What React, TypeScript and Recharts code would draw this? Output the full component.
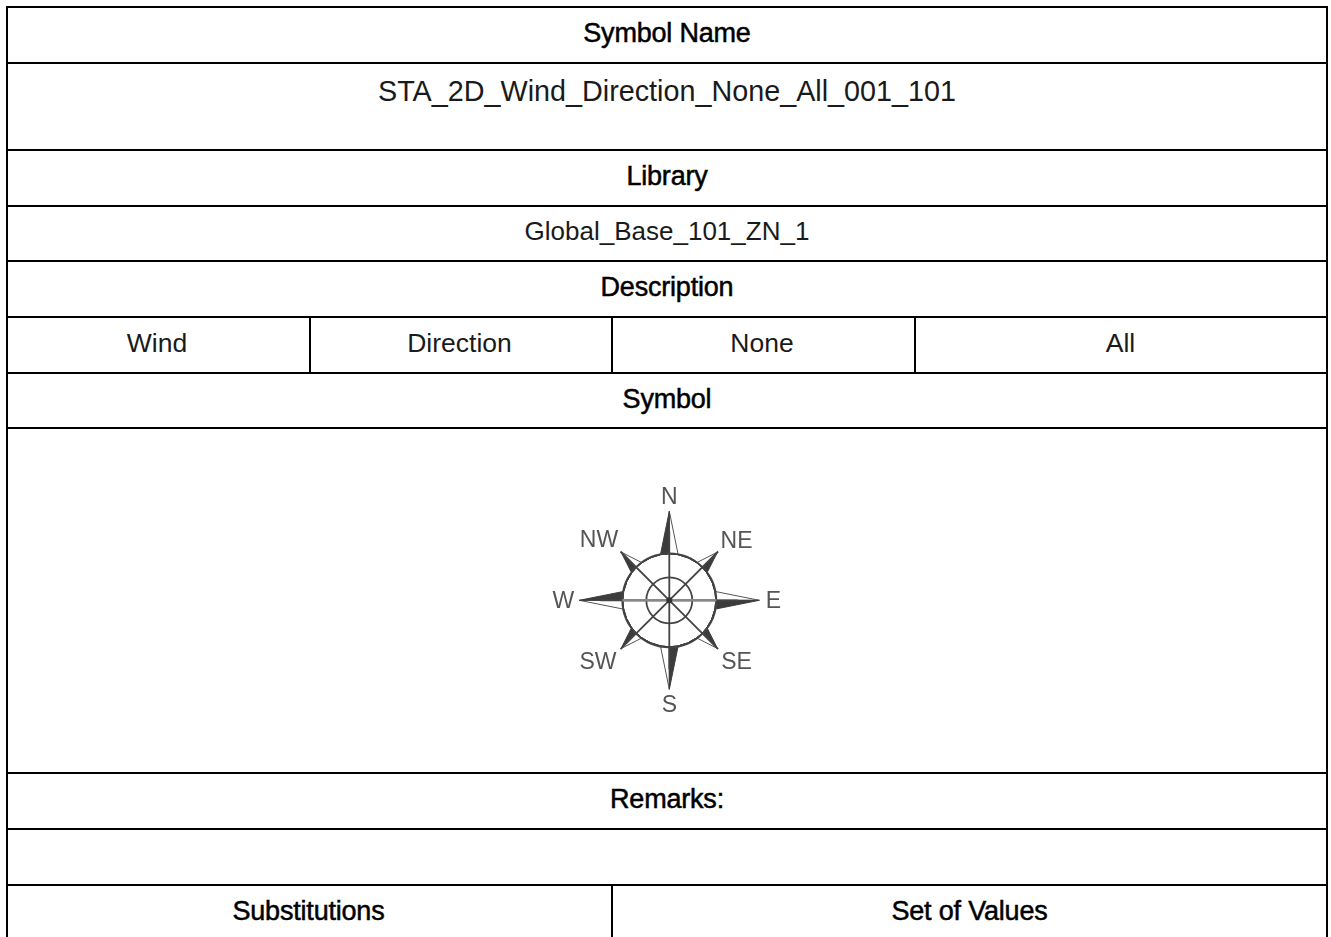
import React from "react";
import {
  PolarAngleAxis,
  PolarGrid,
  PolarRadiusAxis,
  Radar,
  RadarChart,
} from "recharts";

// table contents
const rowEdges = [6, 62, 149, 205, 260, 316, 372, 427, 772, 828, 884, 937];
const headers = ["Symbol Name", "Library", "Description", "Symbol", "Remarks:"];
const symbolName = "STA_2D_Wind_Direction_None_All_001_101";
const libraryName = "Global_Base_101_ZN_1";
const descriptionCells = ["Wind", "Direction", "None", "All"];
const descriptionEdges = [6, 309, 611, 914, 1328];
const footerCells = ["Substitutions", "Set of Values"];

// compass: angle is degrees clockwise from north, radius in pixels of the axis
const directions = ["N", "NE", "E", "SE", "S", "SW", "W", "NW"];
const directionAngles = [0, 45, 90, 135, 180, 225, 270, 315];
const labelNudges = [
  [0, -6],
  [-2, 9],
  [6, 0],
  [-2, -9],
  [0, 6],
  [-2, -9],
  [-8, 0],
  [-1, 8],
];
const ringRadii = [23, 47];
const hubRadius = [1.5];
const eastWestAngles = [0, 180];
const ringBase = 47;
const spikeAngles = [
  0, 0, 11, 24, 36, 45, 45, 54, 67, 79, 90, 90, 101, 114, 126, 135, 135, 144,
  157, 169, 180, 180, 191, 204, 216, 225, 225, 234, 247, 259, 270, 270, 281,
  294, 306, 315, 315, 324, 337, 349,
];
const lightSpikes = [
  47, 90, 47, 47, 47, 69, 47, 47, 47, 47, 91, 47, 47, 47, 47, 47, 69, 47,
  47, 47, 47, 90, 47, 47, 47, 69, 47, 47, 47, 47, 91, 47, 47,
  47, 47, 47, 69, 47, 47, 47,
];
const darkSpikes = [
  90, 47, 47, 47, 47, 47, 69, 47, 47, 47, 47, 91, 47, 47, 47, 69, 47, 47,
  47, 47, 90, 47, 47, 47, 47, 47, 69, 47, 47, 47, 47, 91, 47,
  47, 47, 69, 47, 47, 47, 47,
];

const spikeRows = spikeAngles.map((angle, i) => ({
  angle,
  light: [ringBase, lightSpikes[i]],
  dark: [ringBase, darkSpikes[i]],
}));

const FONT = '"Liberation Sans", Arial, sans-serif';
const CX = 135.3;
const CY = 135.3;

const Cell = ({ x0, x1, y0, y1, text, bold, size = 26, pad = 10, right = 2 }: any) => (
  <div
    style={{
      position: "absolute",
      left: x0,
      width: x1 - x0,
      top: y0,
      height: y1 - y0,
      boxSizing: "border-box",
      borderTop: "2px solid #000",
      borderLeft: "2px solid #000",
      textAlign: "center",
      paddingTop: pad,
      paddingRight: right,
      fontSize: bold ? 27 : size,
      lineHeight: "30px",
      fontFamily: FONT,
      color: bold ? "#000" : "#1a1a1a",
      WebkitTextStroke: bold ? "0.5px #000" : undefined,
      letterSpacing: bold ? -0.2 : 0,
      whiteSpace: "nowrap",
    }}
  >
    {text}
  </div>
);

const CompassTick = ({ x, y, payload }: any) => {
  const i = directionAngles.indexOf(payload.value);
  return (
    <text
      x={x + labelNudges[i][0]}
      y={y + labelNudges[i][1]}
      textAnchor="middle"
      dominantBaseline="central"
      fontSize={23}
      fontFamily={FONT}
      fill="#555"
    >
      {directions[i]}
    </text>
  );
};

// grid spokes always run to the chart's own outer radius, so each length gets a chart
const GridLayer = ({ radius, angles, rings, stroke, width, spokes = true }: any) => (
  <div style={{ position: "absolute", left: 0, top: 0 }}>
    <RadarChart
      width={270}
      height={270}
      cx={CX}
      cy={CY}
      innerRadius={0}
      outerRadius={radius}
      data={spikeRows}
      margin={{ top: 0, right: 0, bottom: 0, left: 0 }}
    >
      <PolarGrid
        gridType="circle"
        radialLines={spokes}
        polarAngles={angles}
        polarRadius={rings}
        stroke={stroke}
        strokeWidth={width}
      />
    </RadarChart>
  </div>
);

export default function App() {
  const top = rowEdges;
  return (
    <div style={{ position: "absolute", left: 0, top: 0, width: 1331, height: 937, background: "#fff", overflow: "hidden" }}>
      <Cell x0={6} x1={1328} y0={top[0]} y1={top[1]} text={headers[0]} bold />
      <Cell x0={6} x1={1328} y0={top[1]} y1={top[2]} text={symbolName} size={28.75} pad={12} />
      <Cell x0={6} x1={1328} y0={top[2]} y1={top[3]} text={headers[1]} bold />
      <Cell x0={6} x1={1328} y0={top[3]} y1={top[4]} text={libraryName} pad={9} />
      <Cell x0={6} x1={1328} y0={top[4]} y1={top[5]} text={headers[2]} bold />
      {descriptionCells.map((t, i) => (
        <Cell key={t} x0={descriptionEdges[i]} x1={descriptionEdges[i + 1]} y0={top[5]} y1={top[6]} text={t} size={26.5} right={3} />
      ))}
      <Cell x0={6} x1={1328} y0={top[6]} y1={top[7]} text={headers[3]} bold />
      <Cell x0={6} x1={1328} y0={top[7]} y1={top[8]} text="" />
      <Cell x0={6} x1={1328} y0={top[8]} y1={top[9]} text={headers[4]} bold />
      <Cell x0={6} x1={1328} y0={top[9]} y1={top[10]} text="" />
      <Cell x0={6} x1={611} y0={top[10]} y1={top[11]} text={footerCells[0]} bold />
      <Cell x0={611} x1={1328} y0={top[10]} y1={top[11]} text={footerCells[1]} bold />
      <div style={{ position: "absolute", left: 1326, top: 6, width: 2, height: 931, background: "#000" }} />

      <div style={{ position: "absolute", left: 534, top: 465, width: 270, height: 270, filter: "blur(0.6px)" }}>
        <div style={{ position: "absolute", left: 0, top: 0 }}>
          <RadarChart
            width={270}
            height={270}
            cx={CX}
            cy={CY}
            innerRadius={0}
            outerRadius={90}
            startAngle={90}
            endAngle={-270}
            data={spikeRows}
            margin={{ top: 0, right: 0, bottom: 0, left: 0 }}
          >
            <PolarAngleAxis
              dataKey="angle"
              type="number"
              domain={[0, 360]}
              ticks={directionAngles as any}
              tick={<CompassTick />}
              tickLine={false}
              axisLine={false}
            />
            <PolarRadiusAxis type="number" domain={[0, 90]} tick={false} axisLine={false} />
            <Radar dataKey="light" stroke="#555" strokeWidth={1} fill="#fff" fillOpacity={1} dot={false} isAnimationActive={false} />
            <Radar dataKey="dark" stroke="#3c3c3c" strokeWidth={1} fill="#3c3c3c" fillOpacity={1} dot={false} isAnimationActive={false} />
          </RadarChart>
        </div>
        <GridLayer radius={69} angles={directionAngles} rings={ringRadii} stroke="#444" width={1.8} />
        <GridLayer radius={47} angles={eastWestAngles} rings={[]} stroke="#888" width={2.5} />
        <GridLayer radius={47} angles={[]} rings={hubRadius} stroke="#333" width={3} spokes={false} />
      </div>
    </div>
  );
}
